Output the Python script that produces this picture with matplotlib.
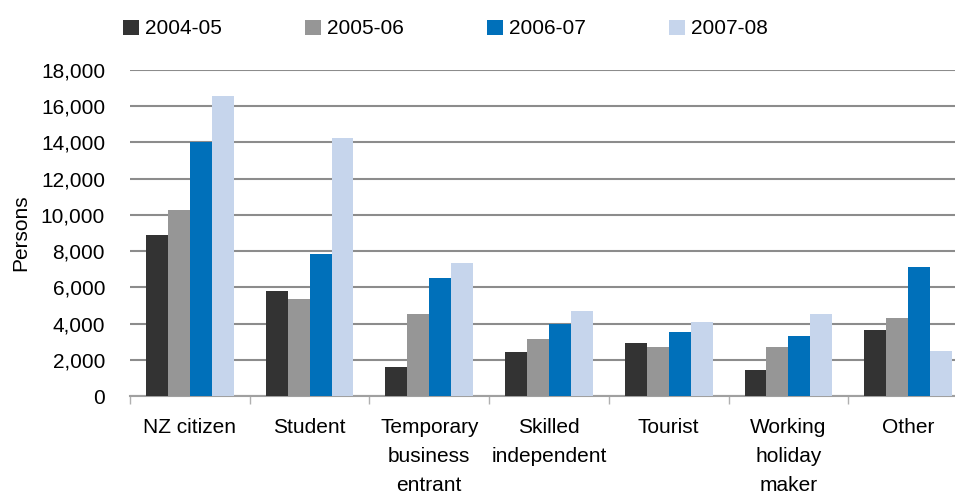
import matplotlib
matplotlib.use('Agg')
import matplotlib.pyplot as plt
import numpy as np

categories = ['NZ citizen', 'Student', 'Temporary\nbusiness\nentrant', 'Skilled\nindependent',
              'Tourist', 'Working\nholiday\nmaker', 'Other']
years = ['2004-05', '2005-06', '2006-07', '2007-08']
v_2004_05 = [8870, 5780, 1620, 2450, 2950, 1460, 3620]
v_2005_06 = [10260, 5330, 4500, 3120, 2730, 2680, 4280]
v_2006_07 = [14040, 7820, 6490, 4000, 3560, 3340, 7100]
v_2007_08 = [16570, 14240, 7320, 4720, 4060, 4500, 2510]
colors = ['#333333', '#969696', '#0070BA', '#C6D5EC']

plt.rcParams['font.family'] = ['Liberation Sans', 'DejaVu Sans']
plt.rcParams['font.size'] = 15

fig = plt.figure(figsize=(9.55, 4.95), dpi=100)
ax = fig.add_axes([130/955, 0.2, 838/955, 0.6586])

x = np.arange(len(categories))
w = 0.1833
series = [v_2004_05, v_2005_06, v_2006_07, v_2007_08]
for i, vals in enumerate(series):
    ax.bar(x + (i - 1.5) * w, vals, w, color=colors[i], label=years[i], zorder=3)

ax.set_xlim(-0.5, 6.5)
ax.set_ylim(0, 18000)
ax.set_yticks(range(0, 18001, 2000))
ax.set_yticklabels(['{:,}'.format(v) for v in range(0, 18001, 2000)])
ax.yaxis.grid(True, color='#8c8c8c', linewidth=1.5, zorder=0)
ax.tick_params(axis='y', length=0, pad=18)

# boundary ticks, labels sit on minor ticks at the centres
ax.set_xticks(np.arange(-0.5, 7, 1))
ax.set_xticklabels([])
ax.tick_params(axis='x', which='major', length=6, color='#b0b0b0', width=1)
ax.set_xticks(x, minor=True)
ax.set_xticklabels(categories, minor=True, linespacing=1.65, va='top')
ax.tick_params(axis='x', which='minor', length=0, pad=16)

for s in ['top', 'right', 'left']:
    ax.spines[s].set_visible(False)
ax.spines['bottom'].set_color('#a0a0a0')
ax.spines['bottom'].set_linewidth(1.5)

ax.set_ylabel('Persons')
ax.yaxis.set_label_coords(-100/838, 0.5)

fig.legend(loc='center left', bbox_to_anchor=(123/955, 1 - 29/495), ncol=4, frameon=False,
           borderpad=0, borderaxespad=0, handlelength=0.75, handleheight=0.75,
           handletextpad=0.3, columnspacing=4.0)

fig.savefig('out.png', dpi=100)
